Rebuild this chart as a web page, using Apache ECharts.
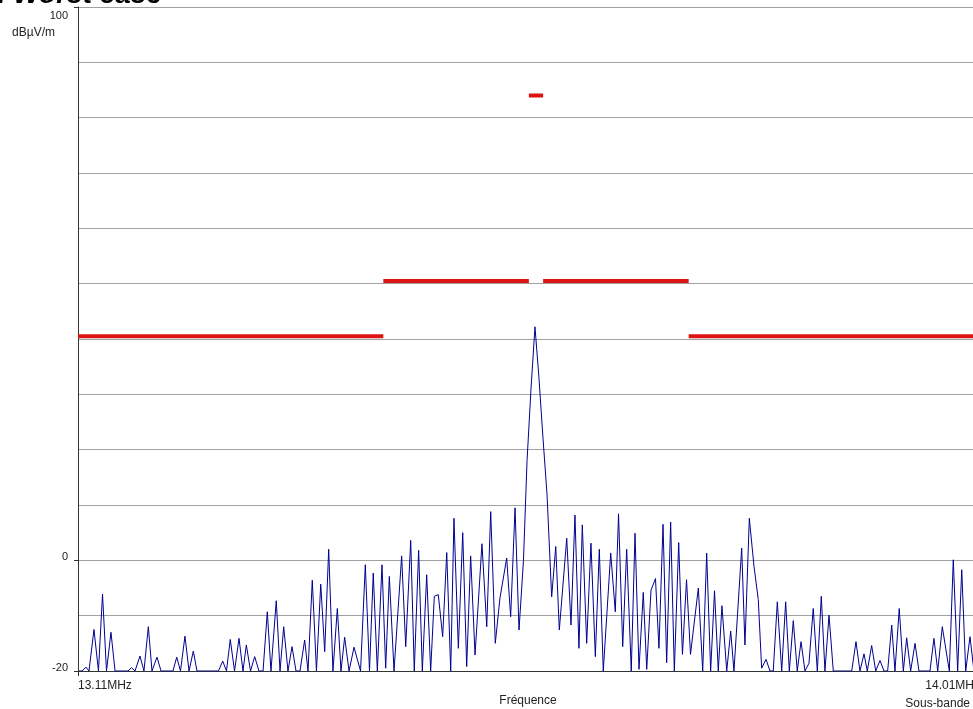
<!DOCTYPE html>
<html>
<head>
<meta charset="utf-8">
<script src="https://cdn.jsdelivr.net/npm/echarts@6/dist/echarts.min.js"></script>
<style>
html, body { margin: 0; padding: 0; overflow: hidden; background: #fff; }
#main { width: 1000px; height: 709px; }
</style>
</head>
<body>
<div id="main"></div>
<script>
var chart = echarts.init(document.getElementById('main'));

// measured spectrum (MHz, dBuV/m)
var specFreq = [
  13.1100, 13.1139, 13.1179, 13.1208, 13.1257, 13.1301, 13.1341, 13.1380, 13.1424, 13.1464,
  13.1591, 13.1626, 13.1660, 13.1709, 13.1748, 13.1791, 13.1827, 13.1876, 13.1916, 13.2033,
  13.2070, 13.2107, 13.2151, 13.2191, 13.2233, 13.2269, 13.2480, 13.2522, 13.2559, 13.2596,
  13.2638, 13.2682, 13.2721, 13.2754, 13.2795, 13.2836, 13.2878, 13.2918, 13.2960, 13.2996,
  13.3048, 13.3085, 13.3121, 13.3163, 13.3203, 13.3242, 13.3281, 13.3327, 13.3360, 13.3402,
  13.3443, 13.3485, 13.3524, 13.3563, 13.3605, 13.3648, 13.3684, 13.3720, 13.3763, 13.3812,
  13.3876, 13.3923, 13.3964, 13.4001, 13.4041, 13.4087, 13.4123, 13.4159, 13.4205, 13.4280,
  13.4320, 13.4369, 13.4404, 13.4447, 13.4483, 13.4526, 13.4565, 13.4601, 13.4640, 13.4683,
  13.4723, 13.4762, 13.4794, 13.4837, 13.4880, 13.4919, 13.4958, 13.5001, 13.5069, 13.5116,
  13.5155, 13.5200, 13.5246, 13.5312, 13.5351, 13.5394, 13.5433, 13.5477, 13.5512, 13.5551,
  13.5590, 13.5629, 13.5669, 13.5708, 13.5754, 13.5794, 13.5829, 13.5902, 13.5944, 13.5983,
  13.6022, 13.6055, 13.6098, 13.6140, 13.6183, 13.6222, 13.6261, 13.6334, 13.6379, 13.6411,
  13.6452, 13.6491, 13.6536, 13.6573, 13.6612, 13.6654, 13.6688, 13.6730, 13.6774, 13.6808,
  13.6848, 13.6884, 13.6923, 13.6959, 13.7002, 13.7039, 13.7079, 13.7118, 13.7195, 13.7238,
  13.7277, 13.7316, 13.7354, 13.7391, 13.7427, 13.7474, 13.7513, 13.7545, 13.7621, 13.7653,
  13.7696, 13.7742, 13.7784, 13.7817, 13.7860, 13.7899, 13.7931, 13.7971, 13.8014, 13.8053,
  13.8089, 13.8128, 13.8167, 13.8204, 13.8243, 13.8282, 13.8324, 13.8364, 13.8403, 13.8439,
  13.8479, 13.8521, 13.8702, 13.8744, 13.8783, 13.8823, 13.8855, 13.8898, 13.8938, 13.8980,
  13.9019, 13.9055, 13.9095, 13.9127, 13.9169, 13.9209, 13.9242, 13.9281, 13.9324, 13.9363,
  13.9471, 13.9510, 13.9547, 13.9592, 13.9661, 13.9700, 13.9743, 13.9783, 13.9822, 13.9864,
  13.9903, 13.9943, 13.9982, 14.0100
];
var specLevel = [
  -20, -20, -19.3, -20, -12.5, -20, -6.1, -20, -13, -20,
  -20, -19.4, -20, -17.3, -20, -12, -20, -17.5, -20, -20,
  -17.5, -20, -13.7, -20, -16.4, -20, -20, -18.2, -20, -14.3,
  -20, -14.1, -20, -15.3, -20, -17.4, -20, -20, -9.3, -20,
  -7.3, -20, -12, -20, -15.6, -20, -20, -14.4, -20, -3.6,
  -20, -4.3, -16.5, 2, -20, -8.7, -20, -13.9, -20, -15.7,
  -20, -0.8, -20, -2.3, -20, -0.8, -19.5, -2.9, -20, 0.8,
  -15.6, 3.6, -20, 1.8, -20, -2.6, -20, -6.5, -6.2, -13.8,
  1.4, -20, 7.6, -15.9, 5.0, -19.2, 0.8, -17.1, 3.0, -12,
  8.8, -15, -6.8, 0.4, -10.2, 9.5, -12.6, 0, 18, 31,
  42.2, 33, 22, 12, -6.6, 2.5, -12.6, 4.0, -11.7, 8.2,
  -15.9, 6.4, -15, 3.1, -17.4, 2.0, -20, 1.3, -9.3, 8.4,
  -15.6, 2.0, -20, 4.9, -19.7, -5.8, -19.7, -5.4, -3.3, -15.9,
  6.5, -18.5, 6.9, -20, 3.2, -17, -3.5, -17, -5, -20,
  1.3, -20, -5.5, -20, -8.2, -20, -12.8, -20, 2.2, -15.3,
  7.6, -1.1, -7.1, -19.5, -17.9, -20, -20, -7.5, -20, -7.5,
  -20, -10.9, -20, -14.7, -20, -18.6, -8.7, -20, -6.5, -20,
  -9.9, -20, -20, -14.7, -20, -16.9, -20, -15.4, -20, -18.1,
  -20, -20, -11.7, -20, -8.7, -20, -14, -20, -15, -20,
  -20, -14.1, -20, -12, -20, 0.1, -20, -1.7, -20, -13.8,
  -20, -16, -20, -20
];

// limit mask segments
var limitStart = [13.11, 13.41, 13.553, 13.567, 13.71];
var limitEnd = [13.41, 13.553, 13.567, 13.71, 14.01];
var limitLevel = [40.5, 50.5, 84, 50.5, 40.5];

var yLabelValues = [-20, 0, 100];
var xLabelValues = [13.11, 14.01];

var spectrum = specFreq.map(function (f, i) {
    return [f, specLevel[i]];
});

var limit = [];
limitStart.forEach(function (s, i) {
    limit.push([s, limitLevel[i]], [limitEnd[i], limitLevel[i]], [limitEnd[i], '-']);
});

var font = 'Liberation Sans, Arial, sans-serif';

var option = {
    animation: false,
    backgroundColor: '#fff',
    title: {
        text: 'a. Worst case',
        left: -18,
        top: -19,
        padding: 0,
        textStyle: {
            fontFamily: font,
            fontSize: 28,
            fontStyle: 'italic',
            fontWeight: 'bold',
            color: '#000'
        }
    },
    grid: {
        left: 78,
        top: 7,
        right: 6,
        bottom: 38,
        outerBoundsMode: 'none'
    },
    xAxis: {
        type: 'value',
        min: 13.11,
        max: 14.01,
        name: 'Fréquence',
        nameLocation: 'middle',
        nameGap: 24,
        nameMoveOverlap: false,
        nameTextStyle: {
            fontFamily: font,
            fontSize: 12,
            color: '#222',
            padding: [0, 16, 0, 0]
        },
        axisLine: { onZero: false, lineStyle: { color: '#333', width: 1 } },
        axisTick: {
            customValues: [13.11],
            length: 5,
            lineStyle: { color: '#333' }
        },
        splitLine: { show: false },
        axisLabel: {
            customValues: xLabelValues,
            margin: 6,
            fontFamily: font,
            fontSize: 12,
            lineHeight: 18,
            color: '#222',
            alignMinLabel: 'left',
            alignMaxLabel: 'right',
            formatter: function (v) {
                if (v > 14) {
                    return '{r|' + v.toFixed(2) + 'MHz}\n{r|Sous-bande 1}';
                }
                return v.toFixed(2) + 'MHz';
            },
            rich: {
                r: {
                    fontFamily: font,
                    fontSize: 12,
                    lineHeight: 18,
                    color: '#222',
                    padding: [0, 14, 0, 0]
                }
            }
        }
    },
    yAxis: [{
        type: 'value',
        min: -20,
        max: 100,
        interval: 10,
        name: 'dBµV/m',
        nameLocation: 'end',
        nameGap: -32,
        nameMoveOverlap: false,
        nameTextStyle: {
            fontFamily: font,
            fontSize: 12,
            color: '#222',
            align: 'right',
            padding: [0, 23, 0, 0]
        },
        axisLine: { show: true, lineStyle: { color: '#333', width: 1 } },
        axisTick: {
            show: true,
            customValues: yLabelValues,
            length: 4,
            lineStyle: { color: '#333' }
        },
        splitLine: { show: false },
        axisLabel: {
            customValues: yLabelValues,
            margin: 10,
            color: '#222',
            formatter: function (v) {
                return v === 100 ? '{t|100}' : '{b|' + v + '}';
            },
            rich: {
                t: { fontFamily: font, fontSize: 11, color: '#222', padding: [17, 0, 0, 0] },
                b: { fontFamily: font, fontSize: 11, color: '#222', padding: [0, 0, 7, 0] }
            }
        },
        z: 3
    }, {
        // gridlines every 10 dB
        type: 'value',
        position: 'left',
        min: -20,
        max: 100,
        interval: 10,
        axisLine: { show: false },
        axisTick: { show: false },
        axisLabel: { show: false },
        splitLine: { show: true, lineStyle: { color: '#a0a0a0', width: 1 } }
    }],
    series: [{
        name: 'Mesure',
        type: 'line',
        symbol: 'none',
        data: spectrum,
        lineStyle: { color: '#000090', width: 1 },
        z: 2
    }, {
        name: 'Limite',
        type: 'line',
        symbol: 'none',
        connectNulls: false,
        data: limit,
        lineStyle: { color: '#dc1414', width: 4 },
        z: 3
    }]
};

chart.setOption(option);
</script>
</body>
</html>
